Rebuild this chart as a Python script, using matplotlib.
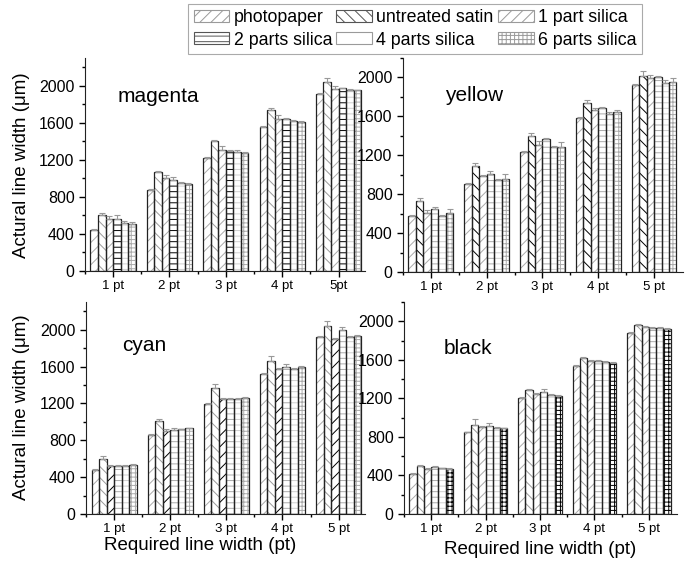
import numpy as np
import matplotlib
matplotlib.use("Agg")
import matplotlib.pyplot as plt
from matplotlib.patches import Patch
from matplotlib.ticker import MultipleLocator, FixedLocator

plt.rcParams['font.family'] = ['Liberation Sans', 'DejaVu Sans']
plt.rcParams['hatch.linewidth'] = 0.7

series = ['photopaper', 'untreated satin', '1 part silica',
          '2 parts silica', '4 parts silica', '6 parts silica']
cats = [1, 2, 3, 4, 5]

magenta_vals = [
    [445, 880, 1220, 1560, 1913],
    [605, 1065, 1400, 1735, 2038],
    [565, 1000, 1305, 1640, 1964],
    [565, 985, 1300, 1640, 1971],
    [520, 950, 1290, 1615, 1953],
    [510, 940, 1275, 1610, 1953],
]
magenta_err = [
    [10, 10, 10, 10, 10],
    [25, 20, 15, 30, 50],
    [30, 40, 40, 40, 35],
    [40, 25, 10, 10, 10],
    [20, 15, 15, 20, 10],
    [20, 10, 10, 10, 5],
]
yellow_vals = [
    [575, 905, 1235, 1585, 1920],
    [725, 1090, 1395, 1740, 2020],
    [605, 985, 1310, 1670, 1990],
    [645, 1010, 1365, 1690, 2005],
    [580, 950, 1280, 1620, 1945],
    [605, 960, 1290, 1640, 1955],
]
yellow_err = [
    [10, 10, 10, 10, 10],
    [40, 35, 35, 25, 50],
    [30, 10, 40, 15, 35],
    [20, 25, 15, 10, 15],
    [10, 10, 20, 20, 30],
    [40, 50, 50, 25, 40],
]
cyan_vals = [
    [480, 855, 1190, 1515, 1918],
    [600, 1010, 1370, 1665, 2040],
    [520, 900, 1250, 1570, 1900],
    [525, 915, 1245, 1600, 2000],
    [525, 920, 1250, 1575, 1921],
    [535, 930, 1260, 1595, 1930],
]
cyan_err = [
    [10, 10, 10, 10, 10],
    [25, 20, 45, 45, 55],
    [10, 20, 10, 10, 10],
    [10, 15, 10, 25, 25],
    [5, 5, 10, 10, 10],
    [5, 5, 5, 10, 10],
]
black_vals = [
    [420, 850, 1205, 1540, 1880],
    [500, 920, 1285, 1620, 1965],
    [470, 905, 1245, 1585, 1945],
    [485, 915, 1265, 1590, 1935],
    [475, 890, 1235, 1575, 1935],
    [470, 890, 1220, 1570, 1920],
]
black_err = [
    [5, 5, 5, 5, 5],
    [10, 70, 15, 10, 10],
    [10, 10, 10, 10, 10],
    [10, 25, 35, 10, 10],
    [5, 10, 10, 10, 10],
    [5, 5, 10, 10, 5],
]

hatches = ['///', '\\\\\\', '///', '---', '---', '++++']
light = ['#aaaaaa', '#9a9a9a', '#aaaaaa', '#aaaaaa', '#cfcfcf', '#aaaaaa']

panels = [
    # name, values, errors, highlighted series, axes rect, ymax, xlabels, text pos
    ('magenta', magenta_vals, magenta_err, 3, [0.1235, 0.5169, 0.407, 0.3797], 2300,
     ['1 pt', '2 pt', '3 pt', '4 pt', '5pt'], (1.08, 1880)),
    ('yellow', yellow_vals, yellow_err, 1, [0.5858, 0.5152, 0.407, 0.3814], 2200,
     ['1 pt', '2 pt', '3 pt', '4 pt', '5 pt'], (1.26, 1815)),
    ('cyan', cyan_vals, cyan_err, 2, [0.125, 0.0838, 0.4055, 0.3779], 2300,
     ['1 pt', '2 pt', '3 pt', '4 pt', '5 pt'], (1.15, 1827)),
    ('black', black_vals, black_err, 5, [0.5872, 0.0838, 0.397, 0.3779], 2200,
     ['1 pt', '2 pt', '3 pt', '4 pt', '5 pt'], (1.23, 1720)),
]

fig = plt.figure(figsize=(6.88, 5.61), dpi=100)
w = 0.134
x = np.array(cats, dtype=float)

for name, vals, errs, hi, rect, ymax, xl, tpos in panels:
    ax = fig.add_axes(rect)
    for i in range(len(series)):
        xi = x + (i - 2.5) * w
        hc = 'black' if i == hi else light[i]
        ax.bar(xi, vals[i], w, color='white', edgecolor=hc, hatch=hatches[i],
               linewidth=0, zorder=2)
        ax.bar(xi, vals[i], w, fill=False, edgecolor='#222222', linewidth=0.9,
               zorder=3)
        ax.errorbar(xi, vals[i], yerr=[np.zeros(5), errs[i]], fmt='none',
                    ecolor='#999999', elinewidth=0.8, capsize=2, capthick=0.8,
                    zorder=4)
    ax.set_xlim(0.5, 5.47 if hi in (3, 2) else 5.52)
    ax.set_ylim(0, ymax)
    ax.set_xticks(cats)
    ax.set_xticklabels(xl, fontsize=9.5)
    ax.xaxis.set_minor_locator(FixedLocator([0.5, 1.5, 2.5, 3.5, 4.5]))
    ax.yaxis.set_major_locator(MultipleLocator(400))
    ax.yaxis.set_minor_locator(MultipleLocator(200))
    ax.tick_params(axis='y', labelsize=11.5)
    ax.tick_params(axis='x', pad=2.5)
    ax.tick_params(which='major', direction='out', length=4, width=1)
    ax.tick_params(which='minor', direction='out', length=2.5, width=1)
    ax.spines['top'].set_visible(False)
    ax.spines['right'].set_visible(False)
    ax.spines['left'].set_color('#222222')
    ax.spines['bottom'].set_color('#222222')
    ax.text(tpos[0], tpos[1], name, fontsize=15, va='center', ha='left')

fig.text(22 / 688, 1 - 165 / 561, 'Actural line width (\u03bcm)', rotation=90,
         ha='center', va='center', fontsize=13.5)
fig.text(22 / 688, 1 - 407 / 561, 'Actural line width (\u03bcm)', rotation=90,
         ha='center', va='center', fontsize=13.5)
fig.text(200 / 688, 1 - 546 / 561, 'Required line width (pt)',
         ha='center', va='center', fontsize=13.5)
fig.text(540 / 688, 1 - 550 / 561, 'Required line width (pt)',
         ha='center', va='center', fontsize=13.5)

# legend: row-wise order for 3 columns
legend_hatch_col = ['#9a9a9a', '#555555', '#9a9a9a', '#555555', '#9a9a9a', '#9a9a9a']
legend_hatch = ['///', '\\\\\\', '///', '---', '', '++++']
handles = [Patch(facecolor='white', edgecolor=legend_hatch_col[i], hatch=legend_hatch[i],
                 linewidth=0.8, label=series[i]) for i in range(6)]
order = [0, 3, 1, 4, 2, 5]
leg = fig.legend([handles[i] for i in order], [series[i] for i in order],
                 ncol=3, loc='upper right', bbox_to_anchor=(642 / 688, 1 - 4 / 561),
                 fontsize=12.8, frameon=True, fancybox=False, framealpha=1,
                 edgecolor='#aaaaaa', handlelength=2.0, handleheight=0.65,
                 handletextpad=0.25, columnspacing=0.25, borderpad=0.3,
                 labelspacing=0.3, borderaxespad=0)
leg.get_frame().set_linewidth(0.8)

fig.savefig('out.png', dpi=100)
